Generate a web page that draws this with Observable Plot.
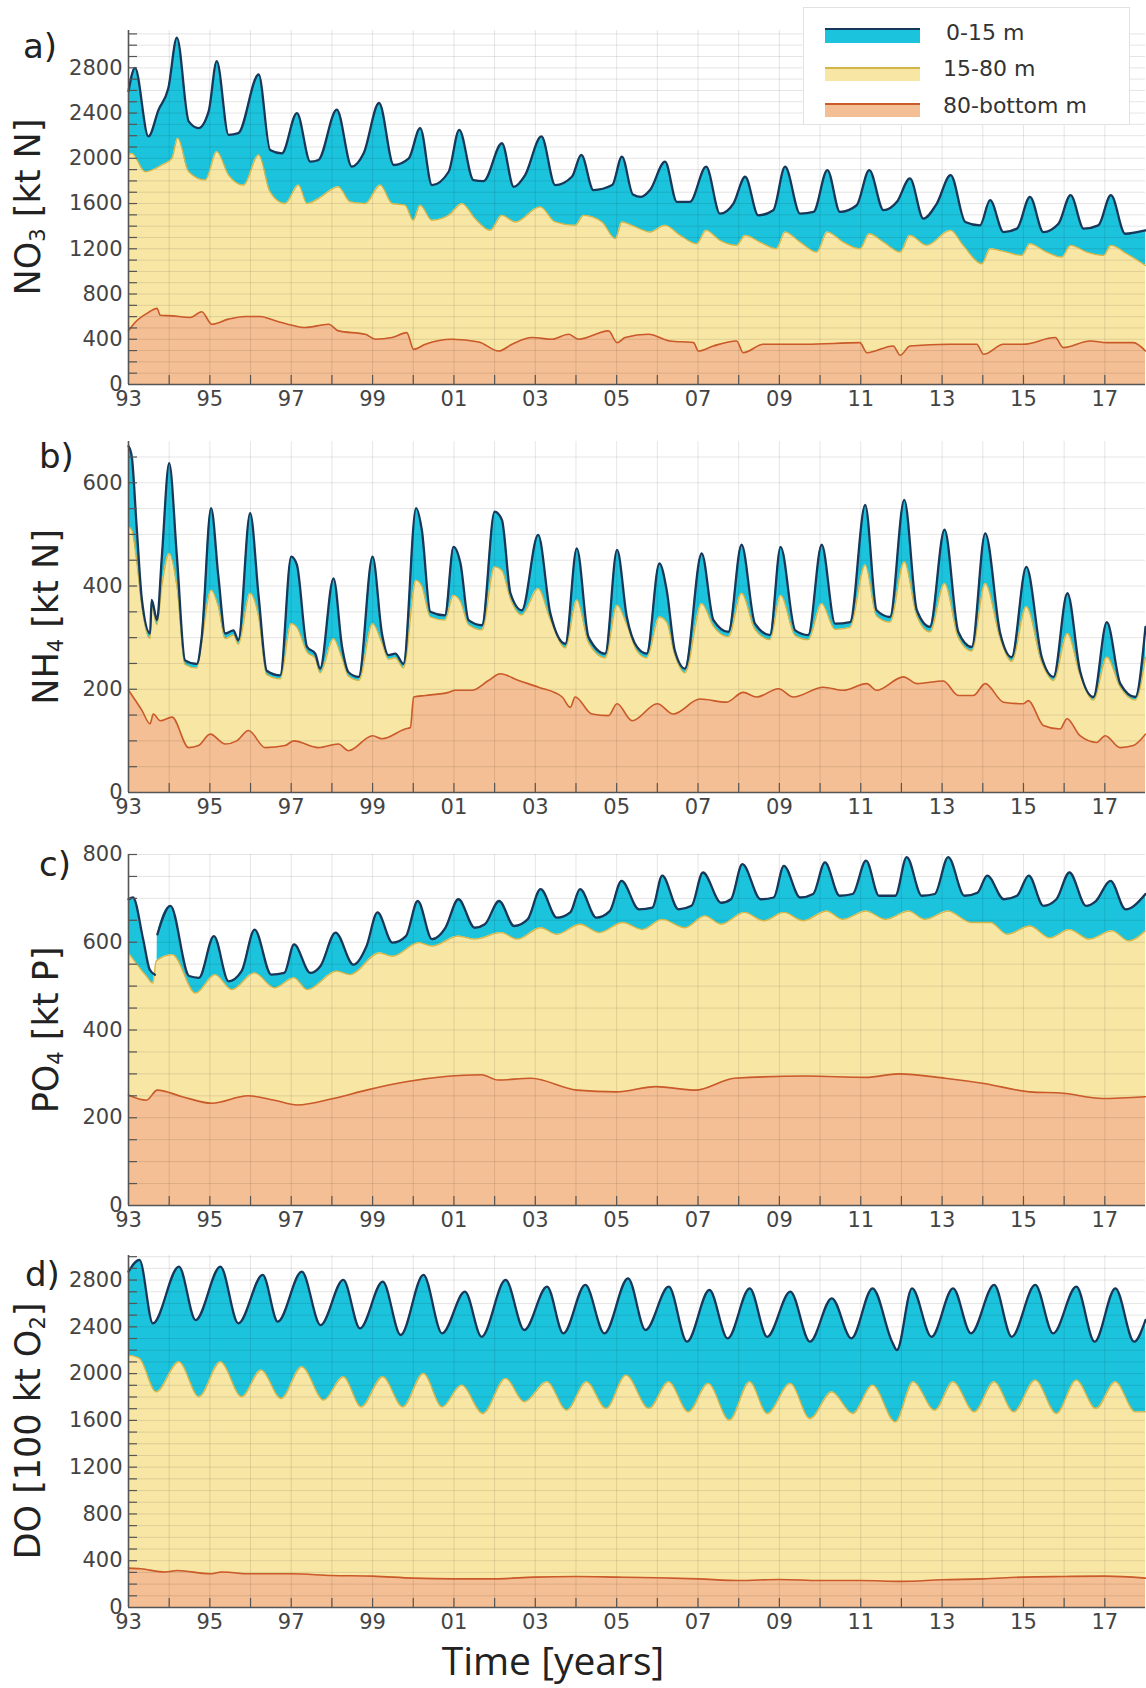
<!DOCTYPE html>
<html><head><meta charset="utf-8">
<script src="https://cdn.jsdelivr.net/npm/d3@7"></script>
<script src="https://cdn.jsdelivr.net/npm/@observablehq/plot@0.6"></script>
<style>
body{margin:0;background:#fff;}
#root{position:relative;width:1146px;height:1688px;overflow:hidden;font-family:"DejaVu Sans",sans-serif;background:#fff;}
.pan{position:absolute;left:0;}
.ytitle{position:absolute;transform:translate(-50%,-50%) rotate(-90deg);white-space:nowrap;font-size:35px;color:#222;line-height:1;}
.ytitle sub{font-size:0.6em;vertical-align:-0.28em;line-height:0;}
.letter{position:absolute;font-size:34px;color:#222;line-height:1;}
#legend{position:absolute;left:803px;top:7px;width:327px;height:118px;background:#fff;border:1px solid #e2e2e2;box-sizing:border-box;}
.sw{position:absolute;left:21px;width:95px;box-sizing:border-box;}
.lt{position:absolute;font-size:22px;color:#333;line-height:1;transform:translateY(-50%);white-space:nowrap;}
#xtitle{position:absolute;left:553px;top:1660px;transform:translate(-50%,-50%);font-family:"Open Sans",sans-serif;font-size:39px;line-height:1.1;color:#222;white-space:nowrap;}
</style></head>
<body><div id="root"></div>
<script>
// ---------- DATA (decimal years, cumulative upper boundary of each layer) ----------
const layerNames = ["0-15 m", "15-80 m", "80-bottom m"];
const xTickYears = [1993,1995,1997,1999,2001,2003,2005,2007,2009,2011,2013,2015,2017];

// a) NO3 [kt N]
const no3TopT = [1993.00,1993.16,1993.49,1993.74,1993.98,1994.19,1994.48,1994.72,1994.97,1995.17,1995.46,1995.70,1996.20,1996.48,1996.77,1997.14,1997.47,1997.67,1998.12,1998.49,1998.78,1999.16,1999.52,1999.89,2000.17,2000.46,2000.87,2001.13,2001.48,2001.73,2002.18,2002.47,2002.75,2003.15,2003.49,2003.90,2004.13,2004.43,2004.89,2005.13,2005.40,2005.60,2005.82,2006.19,2006.48,2006.80,2007.20,2007.54,2007.87,2008.16,2008.48,2008.85,2009.14,2009.51,2009.84,2010.18,2010.49,2010.90,2011.21,2011.56,2011.89,2012.21,2012.54,2012.87,2013.21,2013.57,2013.93,2014.18,2014.51,2014.84,2015.16,2015.49,2015.86,2016.16,2016.48,2016.84,2017.15,2017.50,2017.79,2018.00];
const no3Top  = [2593,2800,2193,2430,2622,3067,2326,2267,2415,2859,2207,2222,2741,2074,2044,2400,1970,1985,2430,1926,2044,2489,1941,2000,2267,1763,1881,2252,1807,1799,2133,1748,1852,2193,1763,1837,2030,1719,1763,2015,1680,1659,1719,1970,1615,1615,1926,1511,1600,1837,1496,1541,1926,1511,1526,1896,1526,1585,1896,1541,1615,1822,1467,1600,1852,1437,1407,1630,1348,1378,1659,1348,1422,1674,1378,1407,1674,1333,1348,1363];
const no3MidT = [1993.00,1993.08,1993.41,1993.82,1994.07,1994.21,1994.48,1994.89,1995.17,1995.46,1995.83,1996.20,1996.48,1996.85,1997.18,1997.39,1997.67,1998.16,1998.45,1998.82,1999.19,1999.48,1999.80,2000.00,2000.17,2000.46,2000.87,2001.20,2001.52,2001.89,2002.18,2002.51,2003.12,2003.49,2003.98,2004.19,2004.64,2004.97,2005.13,2005.46,2005.82,2006.19,2006.56,2006.97,2007.20,2007.54,2007.95,2008.16,2008.52,2008.93,2009.14,2009.51,2009.92,2010.18,2010.57,2010.98,2011.21,2011.56,2011.97,2012.21,2012.62,2013.21,2013.52,2013.98,2014.18,2014.59,2014.96,2015.16,2015.57,2015.94,2016.16,2016.56,2016.97,2017.15,2017.54,2018.00];
const no3Mid  = [2030,2044,1881,1941,2000,2178,1881,1807,2059,1852,1763,2030,1704,1600,1763,1600,1644,1748,1615,1600,1763,1600,1585,1452,1585,1452,1496,1600,1467,1363,1496,1437,1570,1437,1407,1496,1437,1289,1437,1393,1348,1407,1319,1244,1363,1274,1230,1319,1259,1200,1348,1259,1170,1348,1259,1200,1333,1259,1170,1319,1230,1363,1230,1067,1200,1170,1141,1244,1170,1126,1230,1170,1141,1230,1156,1052];
const no3BotT = [1993.00,1993.16,1993.49,1993.70,1993.78,1994.07,1994.52,1994.80,1995.05,1995.46,1995.87,1996.24,1996.61,1997.02,1997.34,1997.92,1998.16,1998.82,1999.07,1999.48,1999.84,2000.01,2000.30,2000.95,2001.61,2002.10,2002.43,2002.92,2003.41,2003.82,2004.07,2004.80,2005.01,2005.21,2005.78,2006.31,2006.89,2007.01,2007.38,2007.95,2008.11,2008.61,2009.67,2010.98,2011.15,2011.80,2011.97,2012.21,2013.20,2013.85,2014.02,2014.51,2015.00,2015.78,2015.98,2016.64,2017.05,2017.70,2018.00];
const no3Bot  = [474,548,637,673,613,607,593,643,533,578,601,601,563,524,504,533,474,444,400,415,459,311,356,400,376,296,356,415,400,444,400,474,370,415,444,385,370,296,341,385,281,356,356,370,281,341,258,341,356,356,267,356,356,415,326,385,370,370,296];

// b) NH4 [kt N]
const nh4TopT = [1993.00,1993.08,1993.20,1993.33,1993.53,1993.57,1993.70,1993.82,1994.00,1994.19,1994.39,1994.68,1994.80,1995.03,1995.21,1995.38,1995.58,1995.70,1995.99,1996.20,1996.40,1996.73,1997.00,1997.14,1997.39,1997.59,1997.71,1998.04,1998.25,1998.41,1998.66,1999.00,1999.23,1999.39,1999.56,1999.76,2000.07,2000.21,2000.42,2000.78,2000.99,2001.16,2001.36,2001.69,2002.00,2002.18,2002.39,2002.67,2003.07,2003.37,2003.74,2004.02,2004.31,2004.72,2005.01,2005.25,2005.50,2005.74,2006.05,2006.23,2006.43,2006.68,2007.09,2007.38,2007.75,2008.07,2008.40,2008.77,2009.03,2009.39,2009.71,2010.04,2010.37,2010.74,2011.11,2011.39,2011.72,2012.07,2012.38,2012.70,2013.06,2013.40,2013.73,2014.06,2014.43,2014.71,2015.07,2015.45,2015.74,2016.08,2016.39,2016.72,2017.05,2017.38,2017.75,2018.00];
const nh4Top  = [671,651,515,373,308,373,334,457,638,457,256,249,301,551,418,308,314,295,541,379,236,227,457,441,282,269,240,415,282,233,224,457,308,266,269,249,551,509,350,343,476,444,334,324,544,528,386,353,499,347,288,473,301,269,470,340,282,269,444,392,275,240,463,334,311,480,327,305,476,314,305,480,327,330,557,353,340,567,353,321,509,311,282,502,308,262,437,262,224,386,236,185,330,211,185,321];
const nh4Mid  = [515,509,450,360,298,360,325,400,463,400,248,241,292,392,360,298,305,287,386,340,228,220,327,320,272,260,232,298,260,225,217,327,290,258,261,241,411,400,340,334,382,370,325,315,437,430,375,344,395,335,280,373,290,261,363,325,274,261,340,330,267,232,366,322,302,386,316,296,382,304,296,366,316,320,441,342,330,447,342,311,405,300,274,405,298,254,360,252,217,308,228,179,262,204,179,262];
const nh4BotT = [1993.00,1993.33,1993.53,1993.61,1993.78,1994.07,1994.48,1994.72,1995.01,1995.38,1995.66,1995.95,1996.36,1996.85,1997.06,1997.67,1998.16,1998.41,1999.00,1999.23,1999.80,1999.93,2000.01,2000.30,2000.87,2001.03,2001.44,2001.85,2002.14,2002.59,2003.08,2003.66,2003.86,2003.98,2004.39,2004.80,2005.01,2005.38,2006.00,2006.39,2007.05,2007.70,2008.11,2008.44,2008.98,2009.34,2010.08,2010.57,2011.15,2011.39,2012.05,2012.38,2013.03,2013.40,2013.77,2014.06,2014.51,2015.00,2015.12,2015.49,2015.90,2016.07,2016.39,2016.80,2017.01,2017.38,2017.70,2018.00];
const nh4Bot  = [198,159,133,152,139,146,87,91,113,94,100,120,87,91,100,87,94,81,110,104,123,126,185,188,194,198,198,217,230,217,204,185,165,185,152,149,172,139,172,152,181,175,194,185,201,185,204,198,211,198,224,211,216,188,188,211,175,172,178,130,123,143,110,97,110,87,91,113];

// c) PO4 [kt P]  (null = gap in the record)
const po4TopT = [1993.00,1993.11,1993.36,1993.52,1993.65,1993.68,1993.71,1994.03,1994.49,1994.73,1995.10,1995.46,1995.78,1996.10,1996.51,1996.83,1997.07,1997.47,1997.72,1998.09,1998.53,1998.85,1999.12,1999.49,1999.82,2000.11,2000.46,2000.79,2001.11,2001.51,2001.76,2002.11,2002.48,2002.81,2003.13,2003.53,2003.86,2004.10,2004.50,2004.83,2005.12,2005.55,2005.88,2006.12,2006.52,2006.84,2007.12,2007.57,2007.81,2008.09,2008.54,2008.86,2009.11,2009.51,2009.83,2010.12,2010.48,2010.80,2011.13,2011.45,2011.85,2012.13,2012.50,2012.82,2013.15,2013.55,2013.87,2014.11,2014.52,2014.84,2015.13,2015.49,2015.81,2016.13,2016.54,2016.78,2017.14,2017.51,2018.00];
const po4Top  = [698,702,607,538,526,null,618,683,523,519,614,511,534,629,526,530,595,530,546,622,549,591,668,599,614,694,607,633,698,633,641,694,637,652,721,656,668,721,656,671,740,675,679,752,675,683,759,690,698,778,698,702,774,702,710,782,706,710,786,706,706,794,706,710,794,706,713,752,698,706,752,683,698,759,683,694,740,675,710];
const po4MidT = [1993.00,1993.44,1993.60,1993.68,1994.08,1994.65,1995.13,1995.54,1996.10,1996.59,1997.07,1997.39,1998.12,1998.44,1999.17,1999.49,2000.14,2000.46,2001.11,2001.51,2002.16,2002.56,2003.13,2003.53,2004.10,2004.58,2005.15,2005.63,2006.12,2006.68,2007.17,2007.57,2008.14,2008.62,2009.11,2009.59,2010.16,2010.56,2011.13,2011.61,2012.18,2012.58,2013.15,2013.71,2014.19,2014.60,2015.16,2015.65,2016.13,2016.62,2017.18,2017.59,2018.00];
const po4Mid  = [576,523,507,557,572,484,526,492,530,496,519,492,534,526,576,568,599,591,614,607,622,607,633,618,641,622,645,629,652,633,660,641,668,649,668,649,671,652,671,652,671,652,671,645,645,618,637,610,629,607,626,603,626];
const po4BotT = [1993.00,1993.44,1993.71,1994.32,1995.05,1995.94,1996.59,1997.15,1998.04,1998.85,1999.82,2000.79,2001.68,2002.08,2002.89,2004.02,2004.99,2005.96,2006.93,2007.90,2009.67,2011.13,2011.93,2013.07,2014.03,2015.16,2015.97,2016.94,2018.00];
const po4Bot  = [252,240,263,248,233,250,240,229,244,263,282,294,298,286,290,263,259,271,263,290,295,292,300,290,278,259,256,244,248];

// d) DO [100 kt O2]
const doTopT = [1993.00,1993.27,1993.60,1994.24,1994.65,1995.26,1995.70,1996.30,1996.67,1997.26,1997.72,1998.28,1998.69,1999.25,1999.69,2000.25,2000.71,2001.27,2001.68,2002.27,2002.73,2003.29,2003.69,2004.23,2004.70,2005.28,2005.71,2006.28,2006.73,2007.28,2007.73,2008.27,2008.70,2009.27,2009.75,2010.29,2010.77,2011.29,2011.77,2011.89,2012.26,2012.74,2013.27,2013.71,2014.28,2014.71,2015.29,2015.73,2016.30,2016.75,2017.26,2017.72,2018.00];
const doTop  = [2872,2972,2430,2915,2458,2915,2430,2844,2444,2872,2415,2801,2387,2786,2330,2844,2344,2701,2315,2801,2373,2744,2344,2758,2344,2815,2373,2744,2273,2715,2301,2729,2315,2701,2273,2644,2301,2729,2273,2201,2729,2315,2729,2344,2758,2315,2758,2344,2744,2273,2729,2273,2458];
const doMidT = [1993.00,1993.27,1993.68,1994.24,1994.73,1995.26,1995.78,1996.26,1996.75,1997.26,1997.80,1998.28,1998.72,1999.25,1999.74,2000.25,2000.71,2001.19,2001.71,2002.27,2002.73,2003.29,2003.77,2004.26,2004.74,2005.23,2005.79,2006.28,2006.76,2007.25,2007.77,2008.27,2008.70,2009.27,2009.75,2010.29,2010.80,2011.29,2011.85,2012.29,2012.82,2013.27,2013.79,2014.28,2014.76,2015.29,2015.81,2016.30,2016.78,2017.26,2017.75,2018.00];
const doMid  = [2158,2130,1844,2101,1802,2101,1802,2030,1787,2058,1773,1973,1716,1973,1716,2001,1716,1901,1659,1959,1759,1930,1687,1930,1702,1987,1702,1930,1673,1916,1602,1930,1659,1916,1616,1844,1659,1901,1587,1930,1687,1930,1673,1930,1673,1944,1659,1944,1702,1930,1673,1673];
const doBotT = [1993.0,1993.3,1993.9,1994.2,1995.0,1995.3,1996.0,1997.0,1998.0,1999.0,2000.0,2001.0,2002.0,2003.0,2004.0,2005.0,2006.0,2007.0,2008.0,2009.0,2010.0,2011.0,2012.0,2013.0,2014.0,2015.0,2016.0,2017.0,2018.0];
const doBot  = [337,331,303,317,288,303,288,288,274,268,251,245,245,260,265,260,254,245,231,240,231,231,223,237,245,260,265,268,251];

// ---------- STYLE ----------
const C = {
  cyan: "#1cc3dd", navy: "#17385a",
  yellow: "#f8e6a5", gold: "#d4b548",
  orange: "#f4bf94", rust: "#c95a2a",
  axis: "#555", grid: "#000"
};
const W = 1146, ML = 128, MR = 1, X0 = 1993, X1 = 2018;
const pxPerYear = (W - ML - MR) / (X1 - X0);

const rows = (t, v) => t.map((x, i) => ({t: x, v: v[i] == null ? NaN : v[i]}));

const panels = [
  {id: "a", top: 30, bottom: 384, ymax: 3130, major: [0,400,800,1200,1600,2000,2400,2800], step: 100,
   topS: rows(no3TopT, no3Top), midS: rows(no3MidT, no3Mid), botS: rows(no3BotT, no3Bot),
   title: 'NO<sub>3</sub> [kt N]', tx: 28, letter: "a)", lx: 23, ly: 46},
  {id: "b", top: 441, bottom: 792, ymax: 680, major: [0,200,400,600], step: 50,
   topS: rows(nh4TopT, nh4Top), midS: rows(nh4TopT, nh4Mid), botS: rows(nh4BotT, nh4Bot),
   title: 'NH<sub>4</sub> [kt N]', tx: 46, letter: "b)", lx: 39, ly: 456},
  {id: "c", top: 854, bottom: 1205, ymax: 800, major: [0,200,400,600,800], step: 50,
   topS: rows(po4TopT, po4Top), midS: rows(po4MidT, po4Mid), botS: rows(po4BotT, po4Bot),
   title: 'PO<sub>4</sub> [kt P]', tx: 46, letter: "c)", lx: 39, ly: 864},
  {id: "d", top: 1255, bottom: 1607, ymax: 3010, major: [0,400,800,1200,1600,2000,2400,2800], step: 100,
   topS: rows(doTopT, doTop), midS: rows(doMidT, doMid), botS: rows(doBotT, doBot),
   title: 'DO [100 kt O<sub>2</sub>]', tx: 28, letter: "d)", lx: 25, ly: 1274}
];

const root = document.getElementById("root");
const years = d3.range(X0, X1 + 1);
const MT = 10, MB = 40, TICK = 9;

for (const p of panels) {
  const H = p.bottom - p.top;
  const minor = d3.range(p.step, p.ymax + 1e-9, p.step);
  const curve = "monotone-x";
  const chart = Plot.plot({
    width: W, height: H + MT + MB,
    marginLeft: ML, marginRight: MR, marginTop: MT, marginBottom: MB,
    x: {domain: [X0, X1], label: null},
    y: {domain: [0, p.ymax], label: null},
    style: {fontFamily: "DejaVu Sans, sans-serif", fontSize: "21px", color: "#444", background: "transparent", overflow: "visible"},
    marks: [
      Plot.areaY(p.topS, {x: "t", y: "v", fill: C.cyan, curve}),
      Plot.areaY(p.midS, {x: "t", y: "v", fill: C.yellow, curve}),
      Plot.areaY(p.botS, {x: "t", y: "v", fill: C.orange, curve}),
      Plot.ruleY(minor, {stroke: C.grid, strokeOpacity: 0.1}),
      Plot.ruleX(years.slice(1, -1), {stroke: C.grid, strokeOpacity: 0.1}),
      Plot.lineY(p.botS, {x: "t", y: "v", stroke: C.rust, strokeWidth: 1.6, curve}),
      Plot.lineY(p.midS, {x: "t", y: "v", stroke: C.gold, strokeWidth: 1.3, curve}),
      Plot.lineY(p.topS, {x: "t", y: "v", stroke: C.navy, strokeWidth: 2.3, curve}),
      Plot.ruleY(minor, {x1: X0, x2: X0 + TICK / pxPerYear, stroke: C.axis, strokeWidth: 1.2}),
      Plot.ruleX(years.slice(1, -1), {y1: 0, y2: p.ymax * TICK / H, stroke: C.axis, strokeWidth: 1.2}),
      Plot.ruleX([X0], {stroke: C.axis, strokeWidth: 1.6}),
      Plot.ruleY([0], {stroke: C.axis, strokeWidth: 1.6}),
      Plot.axisY({ticks: p.major, tickSize: 0, tickPadding: 6, tickFormat: d3.format("d"), label: null}),
      Plot.axisX({ticks: xTickYears, tickSize: 0, tickPadding: 7, tickFormat: y => String(y % 100).padStart(2, "0"), label: null})
    ]
  });
  const wrap = document.createElement("div");
  wrap.className = "pan";
  wrap.style.top = (p.top - MT) + "px";
  wrap.appendChild(chart);
  root.appendChild(wrap);

  const t = document.createElement("div");
  t.className = "ytitle";
  t.innerHTML = p.title;
  t.style.left = p.tx + "px";
  t.style.top = ((p.top + p.bottom) / 2) + "px";
  root.appendChild(t);

  const l = document.createElement("div");
  l.className = "letter";
  l.textContent = p.letter;
  l.style.left = p.lx + "px";
  l.style.top = (p.ly - 17) + "px";
  root.appendChild(l);
}

// legend
const legend = document.createElement("div");
legend.id = "legend";
const sw = [
  {fill: C.cyan, line: C.navy, top: 20, h: 15, ty: 25},
  {fill: C.yellow, line: C.gold, top: 59, h: 14, ty: 61},
  {fill: C.orange, line: C.rust, top: 95, h: 14, ty: 98}
];
sw.forEach((s, i) => {
  const r = document.createElement("div");
  r.className = "sw";
  r.style.top = s.top + "px";
  r.style.height = s.h + "px";
  r.style.background = s.fill;
  r.style.borderTop = "2px solid " + s.line;
  legend.appendChild(r);
  const tx = document.createElement("div");
  tx.className = "lt";
  tx.style.left = (i === 0 ? 142 : 139) + "px";
  tx.style.top = s.ty + "px";
  tx.textContent = layerNames[i];
  legend.appendChild(tx);
});
root.appendChild(legend);

const xt = document.createElement("div");
xt.id = "xtitle";
xt.textContent = "Time [years]";
root.appendChild(xt);
</script>
</body></html>
